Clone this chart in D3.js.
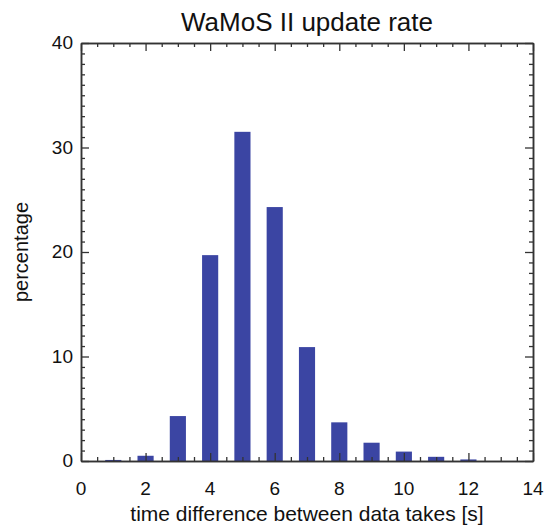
<!DOCTYPE html>
<html>
<head>
<meta charset="utf-8">
<script src="https://d3js.org/d3.v7.min.js"></script>
<style>
    body { margin: 0; background: #fff; }
    text { font-family: "Liberation Sans", Arial, Helvetica, sans-serif; fill: #111; }
</style>
</head>
<body>
<svg id="chart" width="546" height="525"></svg>
<script>
// time difference between data takes [s]
var seconds = [1, 2, 3, 4, 5, 6, 7, 8, 9, 10, 11, 12];
// share of updates in percent
var percentage = [0.1, 0.5, 4.3, 19.7, 31.5, 24.3, 10.9, 3.7, 1.75, 0.9, 0.4, 0.15];
var xTicks = [0, 2, 4, 6, 8, 10, 12, 14];
var yTicks = [0, 10, 20, 30, 40];

var svg = d3.select("#chart");
var plotLeft = 81, plotRight = 533, plotTop = 43, plotBottom = 461;

var x = d3.scaleLinear().domain([0, 14]).range([plotLeft, plotRight]);
var y = d3.scaleLinear().domain([0, 40]).range([plotBottom, plotTop]);
var barW = x(0.5) - x(0);

// bars
svg.append("g")
    .selectAll("rect")
    .data(seconds)
    .enter()
    .append("rect")
    .attr("x", function(d) { return x(d) - barW / 2; })
    .attr("y", function(d, i) { return y(percentage[i]); })
    .attr("width", barW)
    .attr("height", function(d, i) { return plotBottom - y(percentage[i]); })
    .attr("fill", "#3b45a3");

// frame with inward ticks on all four sides
var axisColor = "#333";
var minorX = d3.range(0, 14.01, 0.5).filter(function(v) { return v % 2 != 0; });
var minorY = d3.range(0, 40.01, 1).filter(function(v) { return v % 10 != 0; });

function frameAxis(axis, pos, ticks, len) {
    svg.append("g")
        .attr("transform", pos)
        .call(axis.tickValues(ticks).tickSize(len).tickSizeOuter(0).tickFormat(""))
        .call(function(g) {
            g.select(".domain").attr("stroke", axisColor).attr("stroke-width", 1.5);
            g.selectAll(".tick line").attr("stroke", axisColor).attr("stroke-width", 1.3);
        });
}

frameAxis(d3.axisTop(x), "translate(0," + plotBottom + ")", minorX, 4);
frameAxis(d3.axisTop(x), "translate(0," + plotBottom + ")", xTicks, 8);
frameAxis(d3.axisBottom(x), "translate(0," + plotTop + ")", minorX, 4);
frameAxis(d3.axisBottom(x), "translate(0," + plotTop + ")", xTicks, 8);
frameAxis(d3.axisRight(y), "translate(" + plotLeft + ",0)", minorY, 4);
frameAxis(d3.axisRight(y), "translate(" + plotLeft + ",0)", yTicks, 8);
frameAxis(d3.axisLeft(y), "translate(" + plotRight + ",0)", minorY, 4);
frameAxis(d3.axisLeft(y), "translate(" + plotRight + ",0)", yTicks, 8);

// tick labels
svg.append("g")
    .selectAll("text")
    .data(xTicks)
    .enter()
    .append("text")
    .attr("x", function(d) { return x(d); })
    .attr("y", 495)
    .attr("text-anchor", "middle")
    .style("font-size", "19px")
    .text(function(d) { return d; });

svg.append("g")
    .selectAll("text")
    .data(yTicks)
    .enter()
    .append("text")
    .attr("x", 73)
    .attr("y", function(d) { return y(d) + 6; })
    .attr("text-anchor", "end")
    .style("font-size", "19px")
    .text(function(d) { return d; });

// titles
svg.append("text")
    .attr("x", 307)
    .attr("y", 31)
    .attr("text-anchor", "middle")
    .style("font-size", "26px")
    .text("WaMoS II update rate");

svg.append("text")
    .attr("x", 307)
    .attr("y", 521)
    .attr("text-anchor", "middle")
    .style("font-size", "21px")
    .text("time difference between data takes [s]");

svg.append("text")
    .attr("transform", "translate(28,252) rotate(-90)")
    .attr("text-anchor", "middle")
    .style("font-size", "20px")
    .text("percentage");
</script>
</body>
</html>
